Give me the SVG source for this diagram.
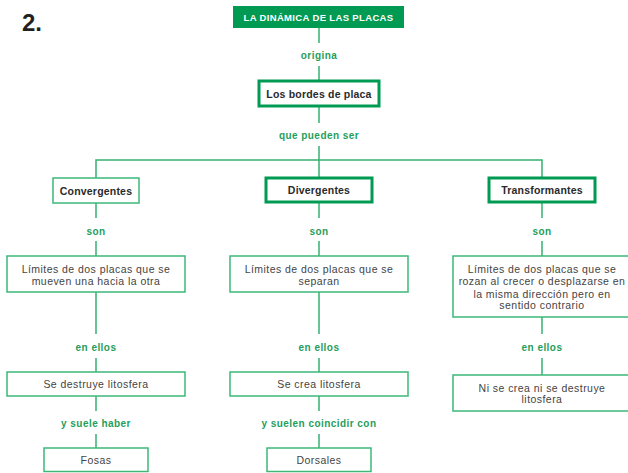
<svg xmlns="http://www.w3.org/2000/svg" width="628" height="473" viewBox="0 0 628 473">
<style>
.ln{stroke:#35b071;stroke-width:1.5;fill:none}
.bx{fill:#fff;stroke:#3cb878;stroke-width:1.5}
.bxt{fill:#fff;stroke:#009a52;stroke-width:3}
.t{font-family:"Liberation Sans",Arial,sans-serif;font-size:10.5px;letter-spacing:0.45px;fill:#444;text-anchor:middle;dominant-baseline:central}
.tb{font-family:"Liberation Sans",Arial,sans-serif;font-size:10.5px;font-weight:bold;letter-spacing:0.2px;fill:#2a2a2a;text-anchor:middle;dominant-baseline:central}
.lb{font-family:"Liberation Sans",Arial,sans-serif;font-size:10px;font-weight:bold;letter-spacing:0.45px;fill:#1f9e5c;text-anchor:middle;dominant-baseline:central}
</style>
<rect width="628" height="473" fill="#fff"/>
<text x="22" y="31" font-family="Liberation Sans,Arial,sans-serif" font-size="24" font-weight="bold" fill="#231f20">2.</text>
<g id="connectors">
<line class="ln" x1="319" y1="28" x2="319" y2="43"/>
<line class="ln" x1="319" y1="66" x2="319" y2="80"/>
<line class="ln" x1="319" y1="107" x2="319" y2="123"/>
<line class="ln" x1="319" y1="146" x2="319" y2="177"/>
<polyline class="ln" points="96,178 96,160 542,160 542,177"/>
<line class="ln" x1="96" y1="203" x2="96" y2="218"/>
<line class="ln" x1="96" y1="241" x2="96" y2="256"/>
<line class="ln" x1="319" y1="202" x2="319" y2="218"/>
<line class="ln" x1="319" y1="241" x2="319" y2="256"/>
<line class="ln" x1="542" y1="202" x2="542" y2="218"/>
<line class="ln" x1="542" y1="241" x2="542" y2="256"/>
<line class="ln" x1="96" y1="292" x2="96" y2="334"/>
<line class="ln" x1="96" y1="358" x2="96" y2="372"/>
<line class="ln" x1="319" y1="292" x2="319" y2="334"/>
<line class="ln" x1="319" y1="358" x2="319" y2="372"/>
<line class="ln" x1="542" y1="317" x2="542" y2="334"/>
<line class="ln" x1="542" y1="358" x2="542" y2="375"/>
<line class="ln" x1="96" y1="396" x2="96" y2="411"/>
<line class="ln" x1="96" y1="434" x2="96" y2="448"/>
<line class="ln" x1="319" y1="396" x2="319" y2="411"/>
<line class="ln" x1="319" y1="434" x2="319" y2="448"/>
</g>
<g id="labels">
<text class="lb" x="319" y="55">origina</text>
<text class="lb" x="319" y="135">que pueden ser</text>
<text class="lb" x="96" y="231">son</text>
<text class="lb" x="319" y="231">son</text>
<text class="lb" x="542" y="231">son</text>
<text class="lb" x="96" y="347">en ellos</text>
<text class="lb" x="319" y="347">en ellos</text>
<text class="lb" x="542" y="347">en ellos</text>
<text class="lb" x="96" y="423">y suele haber</text>
<text class="lb" x="319" y="423">y suelen coincidir con</text>
</g>
<g id="title">
<rect x="233" y="6" width="171" height="22" fill="#009a52"/>
<text class="tb" x="318.5" y="17" style="fill:#fff;font-size:9.5px;letter-spacing:0.35px">LA DINÁMICA DE LAS PLACAS</text>
</g>
<g id="bordes">
<rect class="bxt" x="259" y="81" width="120" height="25"/>
<text class="tb" x="319" y="94">Los bordes de placa</text>
</g>
<g id="convergentes">
<rect class="bx" x="53" y="178" width="86" height="25"/>
<text class="tb" x="96" y="191">Convergentes</text>
</g>
<g id="divergentes">
<rect class="bxt" x="266" y="178" width="106" height="24"/>
<text class="tb" x="319" y="190">Divergentes</text>
</g>
<g id="transformantes">
<rect class="bxt" x="489" y="178" width="106" height="24"/>
<text class="tb" x="542" y="190">Transformantes</text>
</g>
<g id="def-conv">
<rect class="bx" x="7" y="256" width="178" height="36"/>
<text class="t" x="96" y="269">Límites de dos placas que se</text>
<text class="t" x="96" y="281">mueven una hacia la otra</text>
</g>
<g id="def-div">
<rect class="bx" x="230" y="256" width="178" height="36"/>
<text class="t" x="319" y="269">Límites de dos placas que se</text>
<text class="t" x="319" y="281">separan</text>
</g>
<g id="def-trans">
<rect class="bx" x="453" y="256" width="178" height="61"/>
<text class="t" x="542" y="269">Límites de dos placas que se</text>
<text class="t" x="542" y="281">rozan al crecer o desplazarse en</text>
<text class="t" x="542" y="293.5">la misma dirección pero en</text>
<text class="t" x="542" y="305">sentido contrario</text>
</g>
<g id="destruye">
<rect class="bx" x="7" y="372" width="178" height="24"/>
<text class="t" x="96" y="384">Se destruye litosfera</text>
</g>
<g id="crea">
<rect class="bx" x="230" y="372" width="178" height="24"/>
<text class="t" x="319" y="384">Se crea litosfera</text>
</g>
<g id="ni">
<rect class="bx" x="453" y="375" width="178" height="36"/>
<text class="t" x="542" y="388">Ni se crea ni se destruye</text>
<text class="t" x="542" y="399">litosfera</text>
</g>
<g id="fosas">
<rect class="bx" x="44" y="448" width="104" height="23.5"/>
<text class="t" x="96" y="460">Fosas</text>
</g>
<g id="dorsales">
<rect class="bx" x="267" y="448" width="104" height="23.5"/>
<text class="t" x="319" y="460">Dorsales</text>
</g>
</svg>
